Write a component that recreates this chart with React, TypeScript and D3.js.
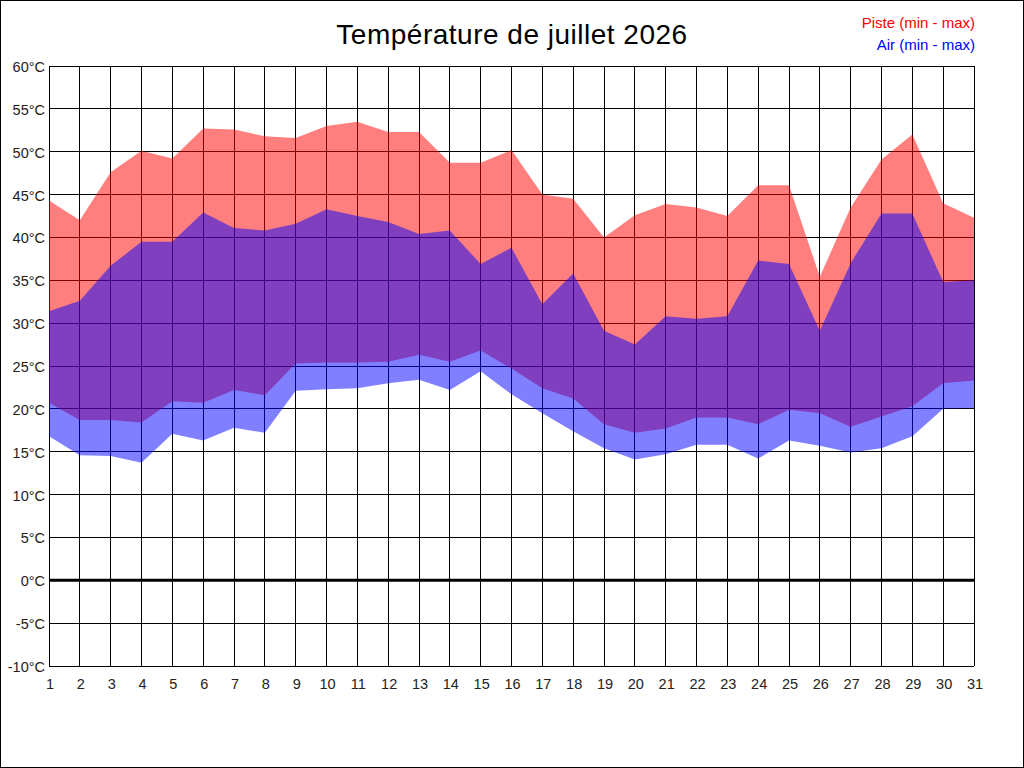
import React, { useRef, useEffect } from 'react';
import * as d3 from "d3";

const days = [1, 2, 3, 4, 5, 6, 7, 8, 9, 10, 11, 12, 13, 14, 15, 16, 17, 18, 19, 20, 21, 22, 23, 24, 25, 26, 27, 28, 29, 30, 31];

const pisteMax = [44.3, 42.0, 47.6, 50.1, 49.2, 52.7, 52.6, 51.8, 51.6, 53.0, 53.5, 52.3, 52.3, 48.7, 48.7, 50.2, 45.0, 44.5, 40.0, 42.6, 43.9, 43.5, 42.5, 46.1, 46.1, 35.4, 43.5, 49.1, 52.0, 44.0, 42.3];
const pisteMin = [20.7, 18.7, 18.7, 18.4, 20.9, 20.7, 22.2, 21.6, 25.3, 25.4, 25.4, 25.5, 26.3, 25.5, 26.8, 24.7, 22.4, 21.2, 18.2, 17.2, 17.7, 19.0, 19.0, 18.2, 19.9, 19.5, 17.9, 19.1, 20.3, 23.0, 23.3];
const airMax = [31.4, 32.6, 36.7, 39.5, 39.5, 42.9, 41.1, 40.8, 41.6, 43.3, 42.5, 41.8, 40.4, 40.8, 36.9, 38.8, 32.2, 35.8, 29.1, 27.5, 30.8, 30.5, 30.8, 37.3, 36.9, 29.1, 37.0, 42.8, 42.8, 34.8, 35.0];
const airMin = [16.8, 14.6, 14.5, 13.7, 17.1, 16.3, 17.8, 17.2, 22.1, 22.3, 22.4, 23.0, 23.4, 22.2, 24.4, 21.7, 19.5, 17.4, 15.4, 14.1, 14.7, 15.8, 15.8, 14.2, 16.3, 15.7, 14.9, 15.4, 16.8, 20.0, 20.1];

const yTicks = [-10, -5, 0, 5, 10, 15, 20, 25, 30, 35, 40, 45, 50, 55, 60];

const title = "Température de juillet 2026";
const legend = [
  { label: "Piste (min - max)", color: "#ff0000" },
  { label: "Air (min - max)", color: "#0000ff" },
];

const font = "Arial, 'Liberation Sans', sans-serif";

export default function App() {
  const svgRef = useRef<SVGSVGElement>(null);

  useEffect(() => {
    if (!svgRef.current) return;
    document.body.style.margin = "0";

    const width = 1024;
    const height = 768;
    const svg = d3.select(svgRef.current)
      .attr("width", width)
      .attr("height", height)
      .style("display", "block");
    svg.selectAll("*").remove();

    const x = d3.scaleLinear().domain([1, 31]).range([49, 974]);
    const y = d3.scaleLinear().domain([-10, 60]).range([666, 66]);

    svg.append("rect")
      .attr("x", 0.5).attr("y", 0.5)
      .attr("width", width - 1).attr("height", height - 1)
      .attr("fill", "#fff").attr("stroke", "#000");

    // grid
    const grid = svg.append("g")
      .attr("stroke", "#000")
      .attr("shape-rendering", "crispEdges");
    grid.selectAll("line.v")
      .data(days)
      .join("line")
      .attr("class", "v")
      .attr("x1", d => x(d)).attr("x2", d => x(d))
      .attr("y1", y(60)).attr("y2", y(-10));
    grid.selectAll("line.h")
      .data(yTicks)
      .join("line")
      .attr("class", "h")
      .attr("x1", x(1)).attr("x2", x(31))
      .attr("y1", d => y(d)).attr("y2", d => y(d));

    const band = (lo: number[], hi: number[]) =>
      d3.area<number>()
        .x(d => x(d))
        .y0((d, i) => y(lo[i]))
        .y1((d, i) => y(hi[i]))(days);

    svg.append("path")
      .attr("d", band(pisteMin, pisteMax))
      .attr("fill", "#ff0000")
      .attr("fill-opacity", 0.5);

    svg.append("path")
      .attr("d", band(airMin, airMax))
      .attr("fill", "#0000ff")
      .attr("fill-opacity", 0.5);

    svg.append("line")
      .attr("x1", x(1)).attr("x2", x(31))
      .attr("y1", y(0)).attr("y2", y(0))
      .attr("stroke", "#000")
      .attr("stroke-width", 3);

    // axis labels
    svg.append("g")
      .selectAll("text")
      .data(yTicks)
      .join("text")
      .attr("x", 45)
      .attr("y", d => y(d) + 6)
      .attr("text-anchor", "end")
      .attr("font-family", font)
      .attr("font-size", 14.5)
      .attr("fill", "#222")
      .text(d => `${d}°C`);

    svg.append("g")
      .selectAll("text")
      .data(days)
      .join("text")
      .attr("x", d => x(d) + 1)
      .attr("y", 689)
      .attr("text-anchor", "middle")
      .attr("font-family", font)
      .attr("font-size", 14.5)
      .attr("fill", "#222")
      .text(d => d);

    svg.append("text")
      .attr("x", 512)
      .attr("y", 44)
      .attr("text-anchor", "middle")
      .attr("font-family", font)
      .attr("font-size", 28)
      .attr("letter-spacing", 0.5)
      .text(title);

    svg.append("g")
      .selectAll("text")
      .data(legend)
      .join("text")
      .attr("x", 975)
      .attr("y", (d, i) => 27.5 + i * 22)
      .attr("text-anchor", "end")
      .attr("font-family", font)
      .attr("font-size", 15)
      .attr("fill", d => d.color)
      .text(d => d.label);
  }, []);

  return <svg ref={svgRef}></svg>;
}
